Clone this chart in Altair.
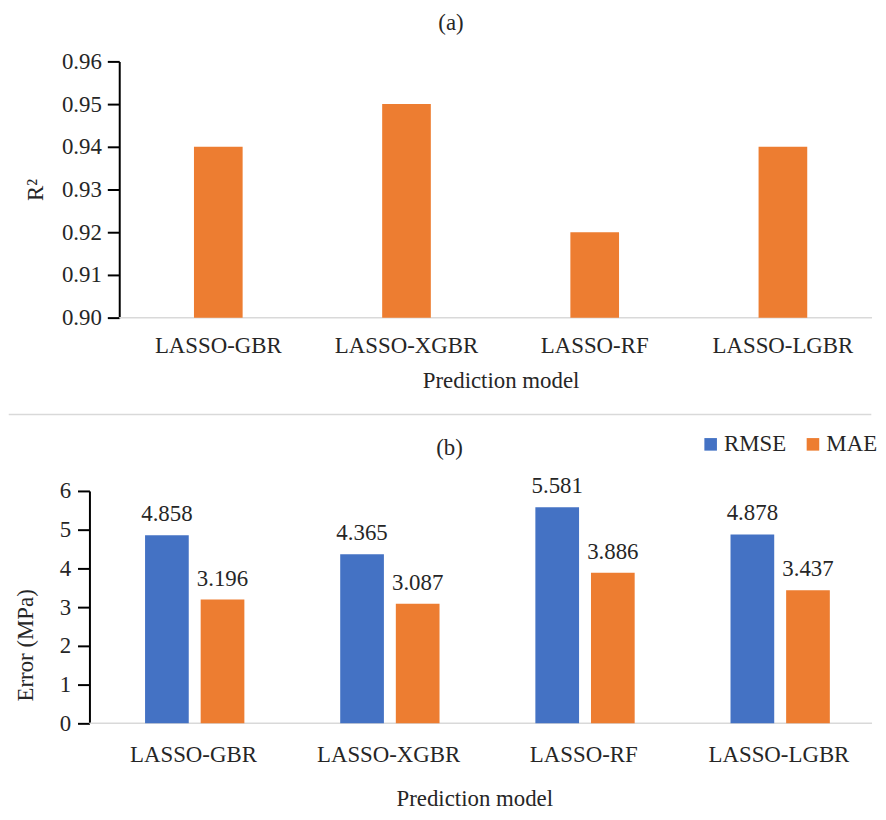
import altair as alt
import pandas as pd

# ---------------- data ----------------
models = ["LASSO-GBR", "LASSO-XGBR", "LASSO-RF", "LASSO-LGBR"]
r2_values = [0.94, 0.95, 0.92, 0.94]
rmse_values = [4.858, 4.365, 5.581, 4.878]
mae_values = [3.196, 3.087, 3.886, 3.437]
metrics = ["RMSE", "MAE"]
metric_colors = ["#4472C4", "#ED7D31"]
r2_ticks = [0.90, 0.91, 0.92, 0.93, 0.94, 0.95, 0.96]
error_ticks = [0, 1, 2, 3, 4, 5, 6]

FONT = "Liberation Serif"
TXT = "#262626"
GRID = "#d9d9d9"
FS = 23

df_a = pd.DataFrame({"model": models, "r2": r2_values})
df_b = pd.DataFrame({
    "model": models * 2,
    "metric": [metrics[0]] * len(models) + [metrics[1]] * len(models),
    "value": rmse_values + mae_values,
})
one = pd.DataFrame({"k": [0]})

W, H_A, H_B = 788, 258, 234

common_y_axis = dict(
    grid=False, domainColor="black", domainWidth=2, tickColor="black",
    tickWidth=2, tickSize=12, labelFont=FONT, labelFontSize=FS,
    labelColor=TXT, titleFont=FONT, titleFontSize=FS,
    titleFontWeight="normal", titleColor=TXT,
)
common_x_axis = dict(
    labelAngle=0, ticks=False, tickSize=0, domain=False,
    labelFont=FONT, labelFontSize=FS, labelColor=TXT,
    titleFont=FONT, titleFontSize=FS, titleFontWeight="normal",
    titleColor=TXT, grid=False,
)

# ---------------- panel (a) ----------------
base_a = alt.Chart(one).mark_rule(color=GRID, strokeWidth=1.5).encode(
    x=alt.value(30), x2=alt.value(W), y=alt.value(H_A)
)

bars_a = alt.Chart(df_a).mark_bar(size=49, color="#ED7D31", xOffset=5).encode(
    x=alt.X("model:N", sort=models,
            scale=alt.Scale(range=[30, W], paddingInner=0, paddingOuter=0),
            axis=alt.Axis(title="Prediction model", labelPadding=17.5,
                          labelOffset=5, titlePadding=12, titleX=414,
                          **common_x_axis)),
    y=alt.Y("r2:Q", scale=alt.Scale(domain=[0.90, 0.96], zero=False, nice=False),
            axis=alt.Axis(title="R²", values=r2_ticks, format=".2f", offset=-30,
                          labelPadding=6, titlePadding=14, **common_y_axis)),
    y2=alt.datum(0.90),
)

separator = alt.Chart(one).mark_rule(color=GRID, strokeWidth=1.5).encode(
    x=alt.value(-81.25), x2=alt.value(W - 0.75), y=alt.value(355.5)
)

chart_a = alt.layer(base_a, bars_a, separator).properties(
    width=W, height=H_A,
    title=alt.TitleParams("(a)", font=FONT, fontSize=FS, fontWeight="normal",
                          color=TXT, offset=16, anchor="middle",
                          frame="group", dx=-30),
)

# ---------------- panel (b) ----------------
x_b = alt.X("model:N", sort=models,
            scale=alt.Scale(range=[2, W], paddingInner=0, paddingOuter=0),
            axis=alt.Axis(title="Prediction model", labelPadding=20.5,
                          labelOffset=4.5, titlePadding=21, titleX=387.5,
                          **common_x_axis))
xoff_b = alt.XOffset("metric:N", sort=metrics, scale=alt.Scale(range=[48, 160]))
y_b = alt.Y("value:Q", scale=alt.Scale(domain=[0, 6], nice=False),
            axis=alt.Axis(title="Error (MPa)", values=error_ticks, format="d",
                          labelPadding=7, titlePadding=22, titleY=155,
                          **common_y_axis))

base_b = alt.Chart(one).mark_rule(color=GRID, strokeWidth=1.5).encode(
    x=alt.value(0), x2=alt.value(W), y=alt.value(H_B)
)

bars_b = alt.Chart(df_b).mark_bar(size=44).encode(
    x=x_b, xOffset=xoff_b, y=y_b,
    color=alt.Color("metric:N", sort=metrics,
                    scale=alt.Scale(domain=metrics, range=metric_colors),
                    legend=alt.Legend(title=None, orient="none", legendX=614,
                                      legendY=-58.4, direction="horizontal",
                                      symbolType="square", symbolSize=160,
                                      symbolStrokeWidth=0, labelFont=FONT,
                                      labelFontSize=FS, labelColor=TXT,
                                      labelOffset=2, columnPadding=15,
                                      gridAlign="none", padding=0)),
)

labels_b = alt.Chart(df_b).mark_text(
    font=FONT, fontSize=FS, color=TXT, baseline="alphabetic", align="center", dy=-14
).encode(
    x=x_b, xOffset=xoff_b, y=y_b,
    text=alt.Text("value:Q", format=".3f"),
)

spacer_b = alt.Chart(one).mark_rule(strokeOpacity=0, strokeWidth=1.5).encode(
    x=alt.value(-81.25), x2=alt.value(0), y=alt.value(100)
)

chart_b = alt.layer(base_b, bars_b, labels_b, spacer_b).properties(
    width=W, height=H_B,
    title=alt.TitleParams("(b)", font=FONT, fontSize=FS, fontWeight="normal",
                          color=TXT, offset=-27, anchor="middle",
                          frame="group", dx=-31.5),
)

chart = alt.vconcat(chart_a, chart_b, spacing=16.5).resolve_legend(
    color="independent"
).properties(
    padding={"left": 0, "top": 1, "right": 0, "bottom": -2}
).configure_view(stroke=None)

chart.save("out.html", embed_options={"renderer": "svg", "actions": False})
